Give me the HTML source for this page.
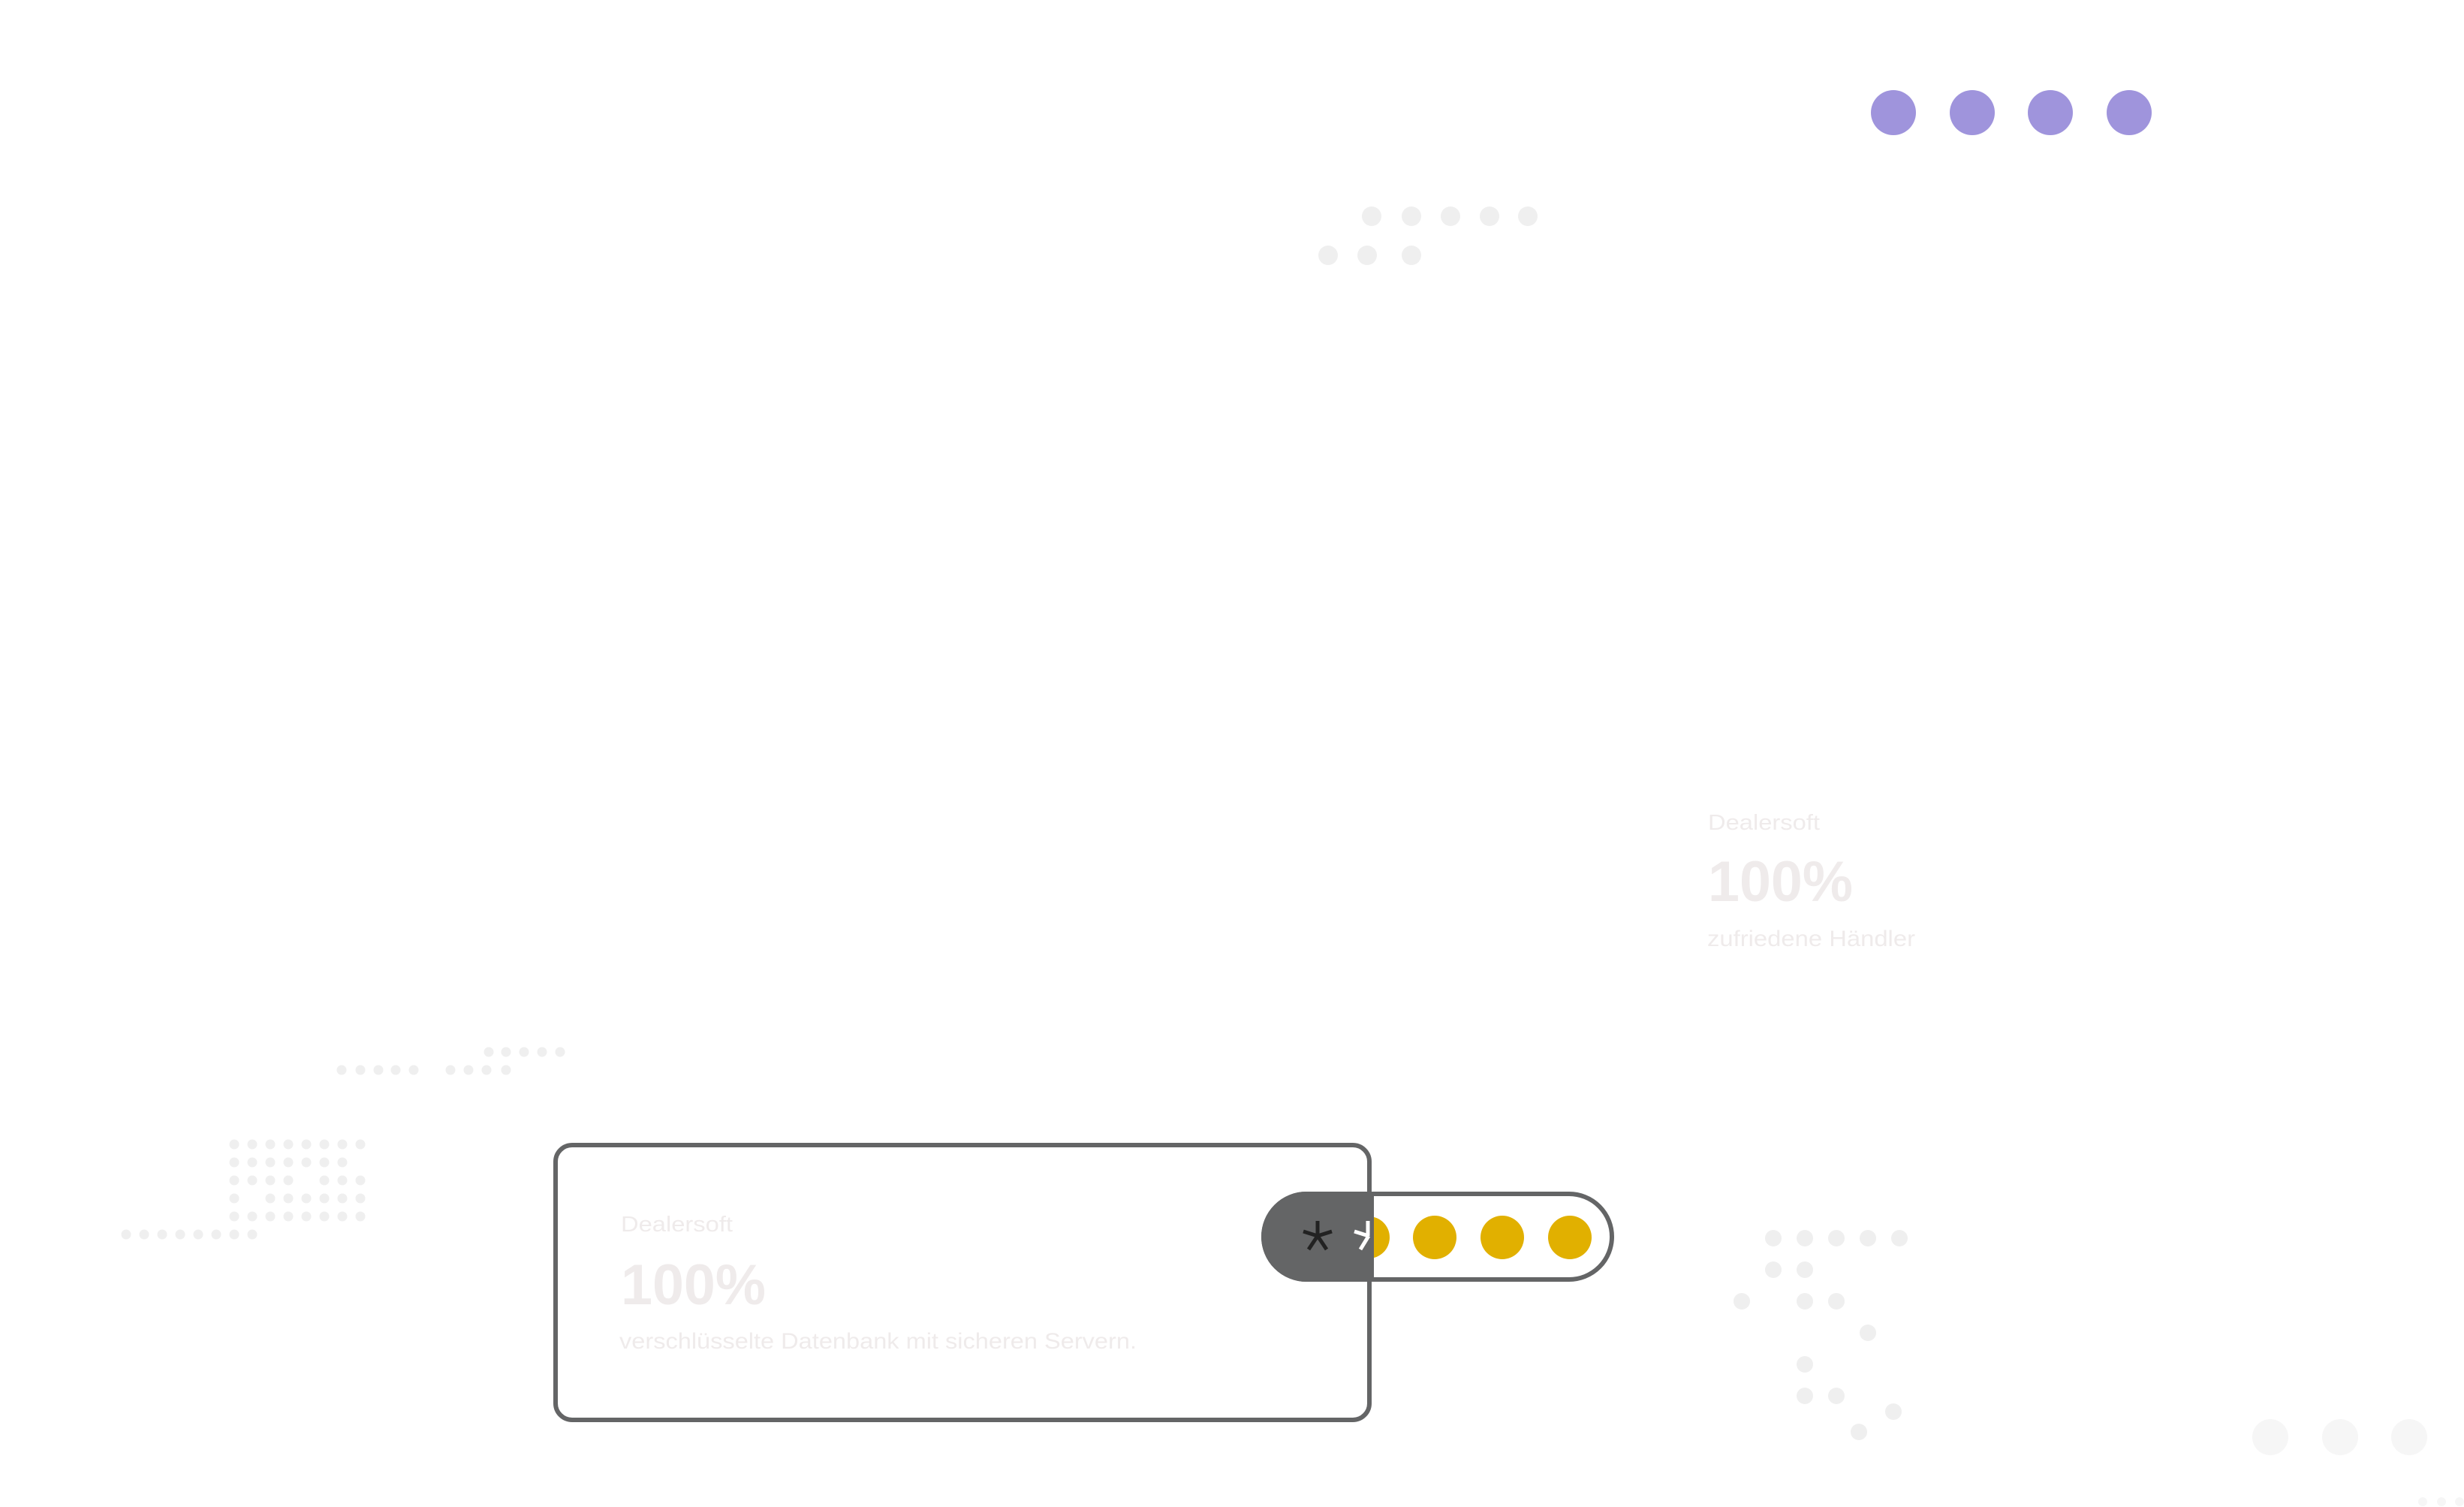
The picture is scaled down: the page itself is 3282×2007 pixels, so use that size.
<!DOCTYPE html>
<html><head><meta charset="utf-8"><style>
html,body{margin:0;padding:0;background:#fff;width:3282px;height:2007px;overflow:hidden}
svg{display:block}
text{font-family:"Liberation Sans",sans-serif}
</style></head><body>
<svg width="3282" height="2007" viewBox="0 0 3282 2007" xmlns="http://www.w3.org/2000/svg">
<g fill="#9f94dc">
<circle cx="2522" cy="150" r="30"/><circle cx="2627" cy="150" r="30"/><circle cx="2731" cy="150" r="30"/><circle cx="2836" cy="150" r="30"/>
</g>
<g fill="#efefef">
<circle cx="1827" cy="288" r="13"/><circle cx="1880" cy="288" r="13"/><circle cx="1932" cy="288" r="13"/><circle cx="1984" cy="288" r="13"/><circle cx="2035" cy="288" r="13"/>
<circle cx="1769" cy="340" r="13"/><circle cx="1821" cy="340" r="13"/><circle cx="1880" cy="340" r="13"/>
<circle cx="651" cy="1401" r="6.5"/><circle cx="674" cy="1401" r="6.5"/><circle cx="698" cy="1401" r="6.5"/><circle cx="722" cy="1401" r="6.5"/><circle cx="746" cy="1401" r="6.5"/>
<circle cx="455" cy="1425" r="6.5"/><circle cx="480" cy="1425" r="6.5"/><circle cx="504" cy="1425" r="6.5"/><circle cx="527" cy="1425" r="6.5"/><circle cx="551" cy="1425" r="6.5"/>
<circle cx="600" cy="1425" r="6.5"/><circle cx="624" cy="1425" r="6.5"/><circle cx="648" cy="1425" r="6.5"/><circle cx="674" cy="1425" r="6.5"/>
<circle cx="312" cy="1524" r="6.5"/><circle cx="336" cy="1524" r="6.5"/><circle cx="360" cy="1524" r="6.5"/><circle cx="384" cy="1524" r="6.5"/><circle cx="408" cy="1524" r="6.5"/><circle cx="432" cy="1524" r="6.5"/><circle cx="456" cy="1524" r="6.5"/><circle cx="480" cy="1524" r="6.5"/>
<circle cx="312" cy="1548" r="6.5"/><circle cx="336" cy="1548" r="6.5"/><circle cx="360" cy="1548" r="6.5"/><circle cx="384" cy="1548" r="6.5"/><circle cx="408" cy="1548" r="6.5"/><circle cx="432" cy="1548" r="6.5"/><circle cx="456" cy="1548" r="6.5"/>
<circle cx="312" cy="1572" r="6.5"/><circle cx="336" cy="1572" r="6.5"/><circle cx="360" cy="1572" r="6.5"/><circle cx="384" cy="1572" r="6.5"/><circle cx="432" cy="1572" r="6.5"/><circle cx="456" cy="1572" r="6.5"/><circle cx="480" cy="1572" r="6.5"/>
<circle cx="312" cy="1596" r="6.5"/><circle cx="360" cy="1596" r="6.5"/><circle cx="384" cy="1596" r="6.5"/><circle cx="408" cy="1596" r="6.5"/><circle cx="432" cy="1596" r="6.5"/><circle cx="456" cy="1596" r="6.5"/><circle cx="480" cy="1596" r="6.5"/>
<circle cx="312" cy="1620" r="6.5"/><circle cx="336" cy="1620" r="6.5"/><circle cx="360" cy="1620" r="6.5"/><circle cx="384" cy="1620" r="6.5"/><circle cx="408" cy="1620" r="6.5"/><circle cx="432" cy="1620" r="6.5"/><circle cx="456" cy="1620" r="6.5"/><circle cx="480" cy="1620" r="6.5"/>
<circle cx="168" cy="1644" r="6.5"/><circle cx="192" cy="1644" r="6.5"/><circle cx="216" cy="1644" r="6.5"/><circle cx="240" cy="1644" r="6.5"/><circle cx="264" cy="1644" r="6.5"/><circle cx="288" cy="1644" r="6.5"/><circle cx="312" cy="1644" r="6.5"/><circle cx="336" cy="1644" r="6.5"/>
<circle cx="2362" cy="1649" r="11"/><circle cx="2404" cy="1649" r="11"/><circle cx="2446" cy="1649" r="11"/><circle cx="2488" cy="1649" r="11"/><circle cx="2530" cy="1649" r="11"/>
<circle cx="2362" cy="1691" r="11"/><circle cx="2404" cy="1691" r="11"/>
<circle cx="2320" cy="1733" r="11"/><circle cx="2404" cy="1733" r="11"/><circle cx="2446" cy="1733" r="11"/>
<circle cx="2488" cy="1775" r="11"/>
<circle cx="2404" cy="1817" r="11"/>
<circle cx="2404" cy="1859" r="11"/><circle cx="2446" cy="1859" r="11"/>
<circle cx="2522" cy="1880" r="11"/><circle cx="2476" cy="1907" r="11"/>
</g>
<g fill="#f6f6f6">
<circle cx="3024" cy="1914" r="24"/><circle cx="3117" cy="1914" r="24"/><circle cx="3209" cy="1914" r="24"/>
<circle cx="3227" cy="2000" r="6"/><circle cx="3252" cy="2000" r="6"/><circle cx="3276" cy="2000" r="6"/>
</g>
<g fill="#efebeb">
<text x="2275" y="1105" font-size="29" textLength="149" lengthAdjust="spacingAndGlyphs">Dealersoft</text>
<text x="2275" y="1200" font-size="76" font-weight="bold" textLength="193" lengthAdjust="spacingAndGlyphs">100%</text>
<text x="2274" y="1260" font-size="30" textLength="277" lengthAdjust="spacingAndGlyphs">zufriedene Händler</text>
</g>
<rect x="740" y="1525" width="1084" height="366" rx="22" fill="#fff" stroke="#646566" stroke-width="6"/>
<g fill="#efebeb">
<text x="827" y="1640" font-size="29" textLength="149" lengthAdjust="spacingAndGlyphs">Dealersoft</text>
<text x="827" y="1737" font-size="76" font-weight="bold" textLength="193" lengthAdjust="spacingAndGlyphs">100%</text>
<text x="825" y="1796" font-size="30" textLength="689" lengthAdjust="spacingAndGlyphs">verschlüsselte Datenbank mit sicheren Servern.</text>
</g>
<rect x="1683" y="1590" width="464" height="114" rx="57" fill="#fff" stroke="#646566" stroke-width="6"/>
<g fill="#e1b000">
<circle cx="1823" cy="1648" r="28"/><circle cx="1911" cy="1648" r="29"/><circle cx="2001" cy="1648" r="29"/><circle cx="2091" cy="1648" r="29"/>
</g>
<path d="M1740,1587 H1830 V1707 H1740 A60,60 0 0 1 1740,1587 Z" fill="#646566"/>
<g stroke="#222" stroke-width="5" fill="none">
<line x1="1755" y1="1626" x2="1755" y2="1646"/>
<line x1="1755" y1="1646" x2="1736" y2="1640"/>
<line x1="1755" y1="1646" x2="1774" y2="1640"/>
<line x1="1755" y1="1646" x2="1743" y2="1664"/>
<line x1="1755" y1="1646" x2="1767" y2="1664"/>
</g>
<g stroke="#fff" stroke-width="5" fill="none">
<line x1="1823" y1="1646" x2="1804" y2="1640"/>
<line x1="1823" y1="1646" x2="1812" y2="1664"/>
<line x1="1822" y1="1626" x2="1822" y2="1646"/>
</g>
</svg>
</body></html>
